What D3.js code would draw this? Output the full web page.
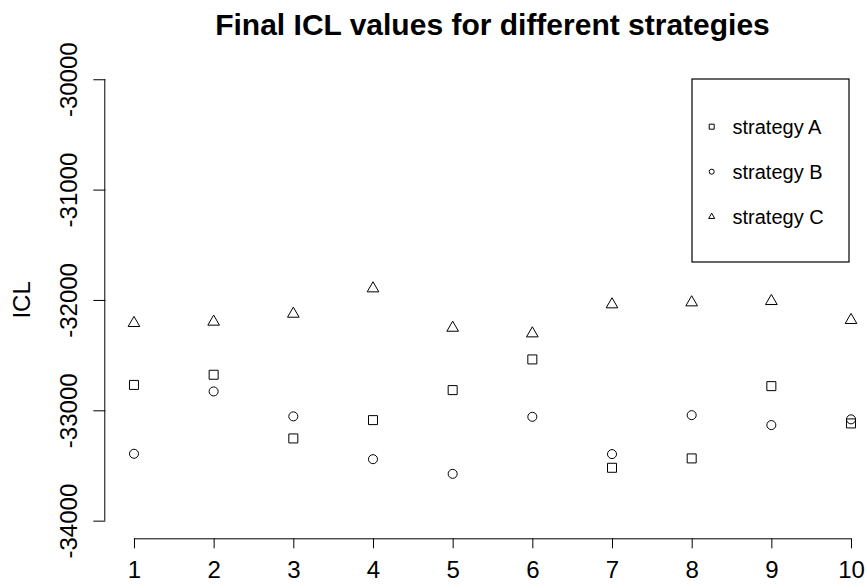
<!DOCTYPE html>
<html>
<head>
<meta charset="utf-8">
<script src="https://cdn.jsdelivr.net/npm/d3@7/dist/d3.min.js"></script>
<style>
  html, body { margin: 0; padding: 0; background: #fff; }
  svg { display: block; font-family: "Liberation Sans", Arial, Helvetica, sans-serif; }
</style>
</head>
<body>
<svg id="chart" width="867" height="588"></svg>
<script>
const runs = [1, 2, 3, 4, 5, 6, 7, 8, 9, 10];
const strategyA = [-32770, -32678, -33255, -33089, -32817, -32539, -33521, -33436, -32781, -33119];
const strategyB = [-33394, -32829, -33055, -33443, -33576, -33059, -33397, -33044, -33134, -33082];
const strategyC = [-32210, -32198, -32126, -31896, -32253, -32304, -32041, -32023, -32011, -32183];
const seriesNames = ["strategy A", "strategy B", "strategy C"];
const yTicks = [-34000, -33000, -32000, -31000, -30000];
const xTicks = [1, 2, 3, 4, 5, 6, 7, 8, 9, 10];
const titleText = "Final ICL values for different strategies";
const yLabel = "ICL";

const svg = d3.select("#chart");
const font = "\"Liberation Sans\", Arial, Helvetica, sans-serif";

// R-style 4% extended ranges
const x = d3.scaleLinear().domain([0.64, 10.36]).range([105.3, 879.7]);
const y = d3.scaleLinear().domain([-34160, -29840]).range([538.3, 61.6]);

const shapes = [d3.symbolSquare, d3.symbolCircle, d3.symbolTriangle];
const sizes = [81, 64, 59];
const legendSizes = [25, 20, 16];

// Title
svg.append("text")
  .attr("x", (x.range()[0] + x.range()[1]) / 2)
  .attr("y", 35)
  .attr("text-anchor", "middle")
  .attr("font-size", 30)
  .attr("font-weight", "bold")
  .text(titleText);

// X axis
const xAxis = svg.append("g")
  .attr("transform", `translate(0,${y.range()[0]})`)
  .call(d3.axisBottom(x).tickValues(xTicks).tickSize(10).tickSizeOuter(0).tickFormat(d3.format("d")));
xAxis.select(".domain").remove();
xAxis.append("line")
  .attr("x1", x(xTicks[0])).attr("x2", x(xTicks[xTicks.length - 1]))
  .attr("y1", 0.5).attr("y2", 0.5)
  .attr("stroke", "#000");
xAxis.selectAll(".tick line").attr("stroke", "#000");
xAxis.selectAll(".tick text")
  .attr("y", 40)
  .attr("dy", null)
  .attr("font-size", 24)
  .attr("font-family", font)
  .attr("fill", "#000");

// Y axis
const yAxis = svg.append("g")
  .attr("transform", `translate(${x.range()[0]},0)`)
  .call(d3.axisLeft(y).tickValues(yTicks).tickSize(12).tickSizeOuter(0).tickFormat(d3.format("d")));
yAxis.select(".domain").remove();
yAxis.append("line")
  .attr("x1", -0.5).attr("x2", -0.5)
  .attr("y1", y(yTicks[0])).attr("y2", y(yTicks[yTicks.length - 1]))
  .attr("stroke", "#000");
yAxis.selectAll(".tick line").attr("stroke", "#000");
yAxis.selectAll(".tick text")
  .attr("x", null).attr("dy", null)
  .attr("text-anchor", "middle")
  .attr("transform", "translate(-28,0) rotate(-90)")
  .attr("font-size", 24)
  .attr("font-family", font)
  .attr("fill", "#000")
  .text(d => String(d).replace("-", "-"));

// Y label
svg.append("text")
  .attr("transform", `translate(30,${(y.range()[0] + y.range()[1]) / 2}) rotate(-90)`)
  .attr("text-anchor", "middle")
  .attr("font-size", 24)
  .text(yLabel);

// Points
const allSeries = [strategyA, strategyB, strategyC];
allSeries.forEach((vals, si) => {
  svg.append("g").selectAll("path")
    .data(vals.map((v, i) => ({ x: runs[i], y: v })))
    .join("path")
    .attr("transform", d => `translate(${x(d.x)},${y(d.y)})`)
    .attr("d", d3.symbol().type(shapes[si]).size(sizes[si]))
    .attr("fill", "none")
    .attr("stroke", "#000")
    .attr("stroke-width", 1);
});

// Legend
const lg = svg.append("g");
lg.append("rect")
  .attr("x", 692).attr("y", 79).attr("width", 157).attr("height", 183)
  .attr("fill", "#fff").attr("stroke", "#000").attr("stroke-width", 1.2);
seriesNames.forEach((name, i) => {
  const cy = 126.7 + i * 45;
  lg.append("path")
    .attr("transform", `translate(711.7,${cy})`)
    .attr("d", d3.symbol().type(shapes[i]).size(legendSizes[i]))
    .attr("fill", "none").attr("stroke", "#000").attr("stroke-width", 1);
  lg.append("text")
    .attr("x", 732.5).attr("y", cy + 7)
    .attr("font-size", 20)
    .text(name);
});
</script>
</body>
</html>
